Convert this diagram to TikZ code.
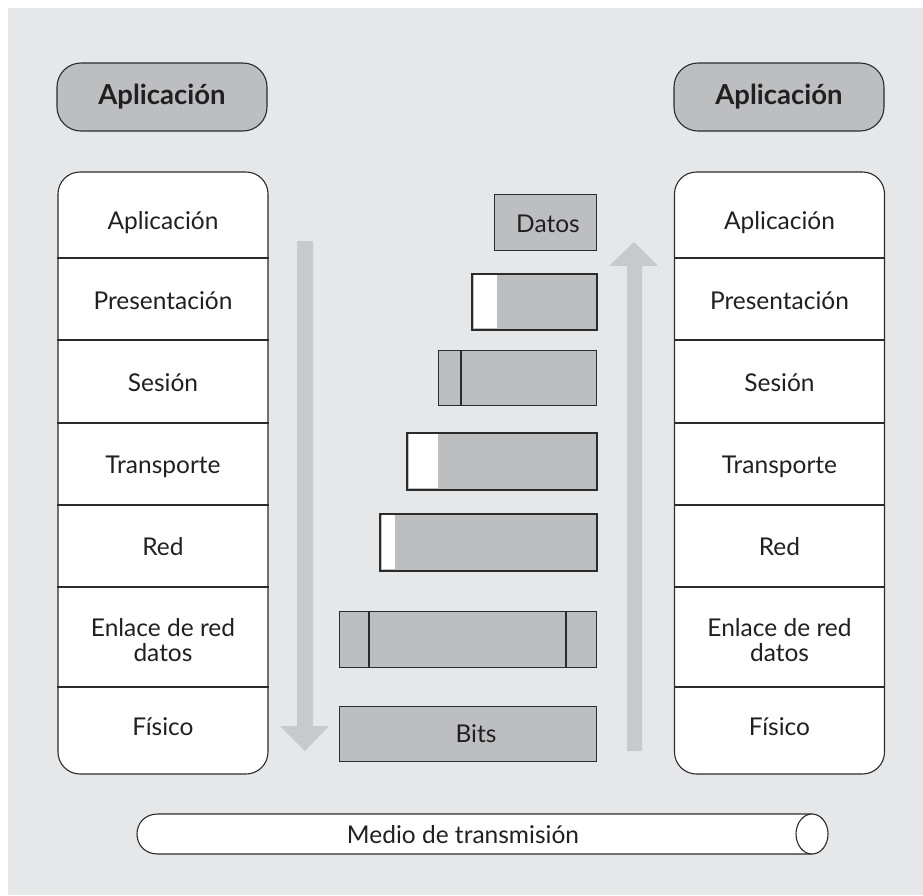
\documentclass[tikz,border=0pt]{standalone}
\usepackage{fontspec}
\setmainfont{Lato}
\definecolor{bg}{HTML}{E6E7E9}
\definecolor{boxgray}{HTML}{BDBEC0}
\definecolor{arrowgray}{HTML}{C8C9CB}
\definecolor{linec}{HTML}{2B2B2B}
\definecolor{txt}{HTML}{231F20}
\begin{document}
\begin{tikzpicture}[x=1pt,y=-1pt,
  outl/.style={draw=linec, line width=1.1pt},
  appbox/.style={outl, fill=boxgray, rounded corners=24pt, minimum width=210pt, minimum height=68pt, inner sep=0pt, font=\fontsize{27.5}{32}\selectfont\bfseries, text=txt},
  stackbox/.style={outl, fill=white, rounded corners=22pt, minimum width=210pt, minimum height=602pt, inner sep=0pt},
  layer/.style={font=\fontsize{24.5}{25}\selectfont, text=txt, align=center, inner sep=0pt},
  pkt/.style={outl, fill=boxgray, inner sep=0pt, anchor=north east},
  pkttext/.style={font=\fontsize{24.5}{25}\selectfont, text=txt, inner sep=0pt, anchor=base},
  bigarrow/.style={fill=arrowgray}
]
\useasboundingbox (0,0) rectangle (923,895);
\fill[bg] (8,8) rectangle (923,895);

% top application boxes
\node[appbox] (appL) at (162,97) {Aplicación};
\node[appbox] (appR) at (779,97) {Aplicación};

% stacks
\node[stackbox] (stackL) at (163,473) {};
\node[stackbox] (stackR) at (779.5,473) {};
\foreach \y in {258,340,423,505,587,687}{
  \draw[outl] (stackL.west |- 0,\y) -- (stackL.east |- 0,\y);
  \draw[outl] (stackR.west |- 0,\y) -- (stackR.east |- 0,\y);
}
\foreach \s/\x in {L/163,R/779.5}{
  \node[layer, anchor=base] (\s1) at (\x,229) {Aplicación};
  \node[layer, anchor=base] (\s2) at (\x,309) {Presentación};
  \node[layer, anchor=base] (\s3) at (\x,391) {Sesión};
  \node[layer, anchor=base] (\s4) at (\x,473) {Transporte};
  \node[layer, anchor=base] (\s5) at (\x,555) {Red};
  \node[layer] (\s6) at (\x,640) {Enlace de red\\datos};
  \node[layer, anchor=base] (\s7) at (\x,735) {Físico};
}

% big arrows
\fill[bigarrow] (297,241) -- (313,241) -- (313,726) -- (329,726) -- (305,751) -- (280,726) -- (297,726) -- cycle;
\fill[bigarrow] (627,751) -- (642,751) -- (642,266) -- (658,266) -- (634,242) -- (609,266) -- (627,266) -- cycle;

% packets
\node[pkt, minimum width=102pt, minimum height=56pt] (p1) at (597,194) {};
\node[pkttext] (datos) at (548,232) {Datos};

\node[pkt, minimum width=124pt, minimum height=55pt] (p2) at (597,274) {};
\fill[white] (473.6,274.6) rectangle (497,328.4);
\draw[outl] (p2.north west) rectangle (p2.south east);

\node[pkt, minimum width=158pt, minimum height=55pt] (p3) at (597,350) {};
\draw[outl] (461,350) -- (461,405);

\node[pkt, minimum width=189pt, minimum height=56pt] (p4) at (597,433) {};
\fill[white] (408.6,433.6) rectangle (438,488.4);
\draw[outl] (p4.north west) rectangle (p4.south east);

\node[pkt, minimum width=216pt, minimum height=56pt] (p5) at (597,514) {};
\fill[white] (381.6,514.6) rectangle (395,569.4);
\draw[outl] (p5.north west) rectangle (p5.south east);

\node[pkt, minimum width=257pt, minimum height=56pt] (p6) at (597,611) {};
\draw[outl] (369,611) -- (369,667);
\draw[outl] (566,611) -- (566,667);

\node[pkt, minimum width=257pt, minimum height=55pt] (p7) at (597,706) {};
\node[pkttext] (bits) at (476,742) {Bits};

% transmission medium (cylinder)
\fill[white] (158,814) .. controls (130,814) and (130,854) .. (158,854) -- (812,854) -- (812,814) -- cycle;
\draw[outl] (812,814) -- (158,814) .. controls (130,814) and (130,854) .. (158,854) -- (812,854);
\filldraw[outl, fill=white] (812,834) ellipse [x radius=16, y radius=20];
\node[pkttext] (medio) at (463,843) {Medio de transmisión};
\end{tikzpicture}
\end{document}
